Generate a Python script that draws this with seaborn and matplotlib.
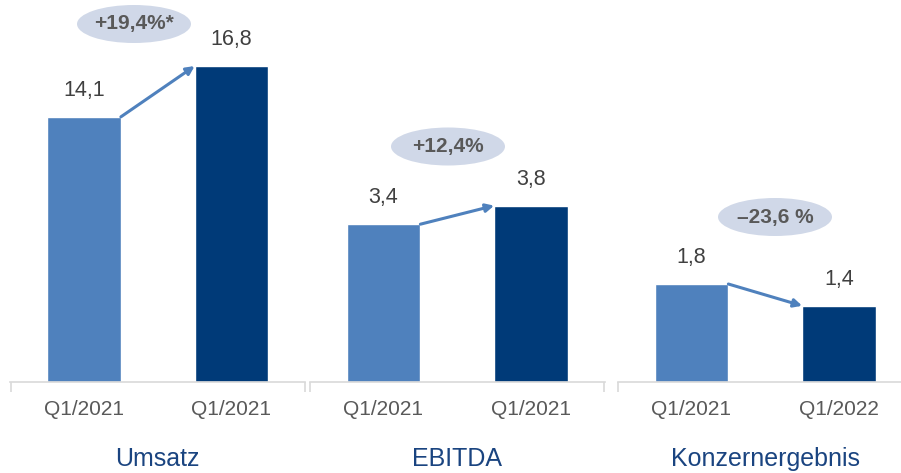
import pandas as pd
import matplotlib.pyplot as plt
import seaborn as sns
from matplotlib.patches import Ellipse

# data
metrics = ["Umsatz", "EBITDA", "Konzernergebnis"]
periods = [["Q1/2021", "Q1/2021"], ["Q1/2021", "Q1/2021"], ["Q1/2021", "Q1/2022"]]
values = [[14.1, 16.8], [3.4, 3.8], [1.8, 1.4]]
changes = ["+19,4%*", "+12,4%", "\u201323,6 %"]

LIGHT = "#4F81BD"
DARK = "#003A78"
ELLIPSE = "#D0D8E8"
GRID = "#D9D9D9"

sns.set_style("white")
plt.rcParams["font.family"] = ["Liberation Sans", "DejaVu Sans"]

W, H = 901, 473
fig = plt.figure(figsize=(W / 100, H / 100), dpi=100)

# per-panel layout (pixels) and y scale
ax_left = [10.25, 309.75, 617.75]
ymax = [19.25, 7.8, 6.65]
bubble = [(134, 24), (448, 146.5), (775, 217)]
ax_w, ax_bottom, ax_top = 295, 382, 20

for k, name in enumerate(metrics):
    df = pd.DataFrame({"pos": [0, 1], "period": periods[k], "value": values[k]})
    ax = fig.add_axes([ax_left[k] / W, (H - ax_bottom) / H, ax_w / W, (ax_bottom - ax_top) / H])
    sns.barplot(data=df, x="pos", y="value", hue="pos", palette=[LIGHT, DARK],
                width=0.5, legend=False, ax=ax, saturation=1)
    ax.set_xlim(-0.5, 1.5)
    ax.set_ylim(0, ymax[k])
    ax.set_yticks([])
    ax.set_xlabel("")
    ax.set_ylabel("")
    ax.set_xticks([0, 1])
    ax.set_xticklabels(df["period"], fontsize=15, color="#595959")
    ax.tick_params(axis="x", which="major", length=0, pad=13)
    ax.set_xticks([-0.495, 1.495], minor=True)
    ax.tick_params(axis="x", which="minor", bottom=True, length=7, width=1.2,
                   color=GRID, direction="out")
    for s in ["left", "top", "right"]:
        ax.spines[s].set_visible(False)
    ax.spines["bottom"].set_color(GRID)
    ax.spines["bottom"].set_linewidth(1.2)
    ax.patch.set_alpha(0)

    for i, v in enumerate(df["value"]):
        ax.annotate(f"{v:.1f}".replace(".", ","), (i, v), xytext=(0, 19),
                    textcoords="offset points", ha="center", va="center",
                    fontsize=15.5, color="#404040")

    # arrow from top-right of first bar to top-left of second bar
    ax.annotate("", xy=(0.75, values[k][1]), xytext=(0.25, values[k][0]),
                arrowprops=dict(arrowstyle="-|>", color=LIGHT, lw=2.2,
                                mutation_scale=12, shrinkA=0, shrinkB=0))

    ax.text(0.5, -(459 - ax_bottom) / (ax_bottom - ax_top), name,
            transform=ax.transAxes, ha="center", va="center",
            fontsize=18, color="#1A4480")

    bx, by = bubble[k]
    fig.add_artist(Ellipse((bx / W, 1 - by / H), 114 / W, 38 / H,
                           transform=fig.transFigure, facecolor=ELLIPSE,
                           edgecolor="none"))
    fig.text(bx / W, 1 - by / H, changes[k], ha="center", va="center",
             fontsize=15, fontweight="bold", color="#595959")

fig.savefig("out.png", dpi=100)
